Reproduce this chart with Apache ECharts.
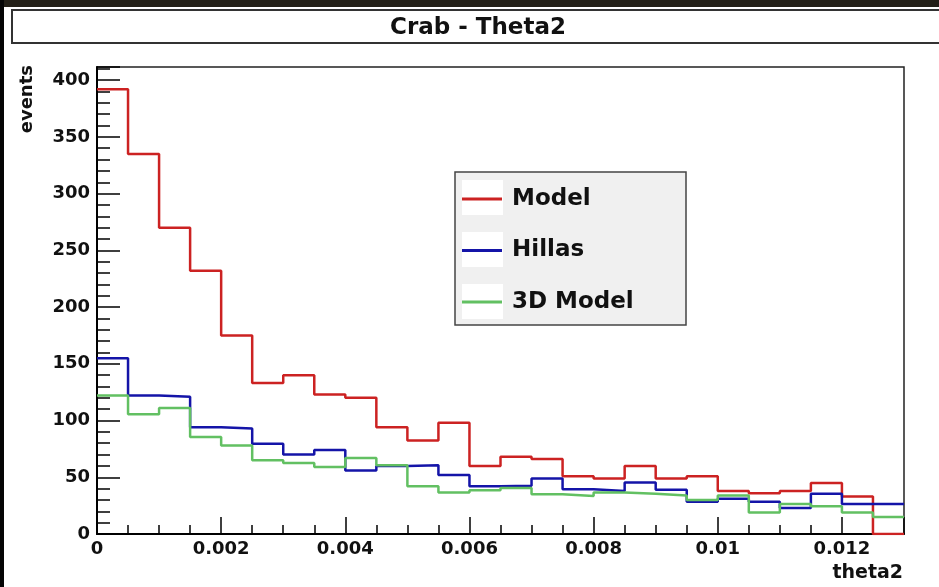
<!DOCTYPE html>
<html>
<head>
<meta charset="utf-8">
<script src="https://cdn.jsdelivr.net/npm/echarts@6/dist/echarts.min.js"></script>
<style>
html,body{margin:0;padding:0;background:#fff;}
#c{width:939px;height:587px;}
</style>
</head>
<body>
<div id="c"></div>
<script>
// Bin edges of theta2 (26 bins of width 0.0005)
const binEdges = [0, 0.0005, 0.001, 0.0015, 0.002, 0.0025, 0.003, 0.0035, 0.004, 0.0045,
  0.005, 0.0055, 0.006, 0.0065, 0.007, 0.0075, 0.008, 0.0085, 0.009, 0.0095,
  0.01, 0.0105, 0.011, 0.0115, 0.012, 0.0125, 0.013];
const seriesNames = ['Model', 'Hillas', '3D Model'];
const modelCounts = [392, 335, 270, 232, 175, 133, 140, 123, 120, 94, 82.5, 98, 60, 68, 66, 51, 49, 60, 49, 51, 38, 36, 38, 45, 33, 0];
const hillasCounts = [155, 122, 121, 94, 93, 79.5, 70, 74, 56, 60, 60.5, 52, 42, 42.5, 49, 39.5, 38, 45.5, 39, 28.5, 31, 28.5, 23, 35.5, 26.5, 26.5];
const model3DCounts = [122, 105.5, 111, 85.5, 78, 65, 62.5, 59, 67, 60.5, 42, 36.5, 38.5, 40.5, 35, 33.5, 36.5, 35.5, 34, 30, 34, 19, 26.5, 24.5, 19, 15];
const xTickLabels = ['0', '0.002', '0.004', '0.006', '0.008', '0.01', '0.012'];
const yTickLabels = ['0', '50', '100', '150', '200', '250', '300', '350', '400'];

function histData(counts) {
  // one point per bin edge; last edge repeats the last bin so the step reaches the end
  return binEdges.map((e, i) => [e, counts[Math.min(i, counts.length - 1)]]);
}

const FONT = '"DejaVu Sans", Verdana, sans-serif';
const colors = ['#cc2222', '#1414a8', '#62c062'];
const chart = echarts.init(document.getElementById('c'), null, {renderer: 'canvas'});

const legendTop = 172, legendLeft = 455;
chart.setOption({
  animation: false,
  backgroundColor: '#ffffff',
  grid: {left: 97, top: 67, right: 35, bottom: 53, show: true, borderColor: '#222', borderWidth: 1.5, backgroundColor: '#fff'},
  xAxis: {
    type: 'value', min: 0, max: 0.013, interval: 0.002,
    axisLine: {show: true, lineStyle: {color: '#000', width: 2}},
    axisTick: {show: true, inside: true, length: 17, lineStyle: {color: '#000', width: 1.5}},
    minorTick: {show: true, splitNumber: 4, length: 9, lineStyle: {color: '#000', width: 1.5}},
    splitLine: {show: false},
    axisLabel: {
      showMaxLabel: false, margin: 6, color: '#111', fontFamily: FONT, fontWeight: 'bold', fontSize: 18,
      formatter: v => { const i = Math.round(v / 0.002); return xTickLabels[i] !== undefined ? xTickLabels[i] : ''; }
    }
  },
  yAxis: {
    type: 'value', min: 0, max: 411.6, interval: 50,
    axisLine: {show: true, lineStyle: {color: '#000', width: 2}},
    axisTick: {show: true, inside: true, length: 23, lineStyle: {color: '#000', width: 1.5}},
    minorTick: {show: true, splitNumber: 5, length: 13, lineStyle: {color: '#000', width: 1.5}},
    splitLine: {show: false},
    axisLabel: {
      showMaxLabel: false, margin: 7, color: '#111', fontFamily: FONT, fontWeight: 'bold', fontSize: 18,
      formatter: v => { const i = Math.round(v / 50); return yTickLabels[i] !== undefined ? yTickLabels[i] : ''; }
    }
  },
  legend: {
    orient: 'vertical', left: legendLeft, top: legendTop,
    padding: [12, 52, 8, 7],
    backgroundColor: 'transparent', borderWidth: 0,
    itemWidth: 40, itemHeight: 3, itemGap: 21.5,
    icon: 'rect',
    textStyle: {fontFamily: FONT, fontWeight: 'bold', fontSize: 23, color: '#111', lineHeight: 30, padding: [0, 0, 0, 5]},
    data: seriesNames,
    z: 6
  },
  graphic: [
    {type: 'rect', shape: {x: 0, y: 0, width: 939, height: 7}, style: {fill: '#231f17'}, z: 10},
    {type: 'rect', shape: {x: 0, y: 0, width: 4, height: 587}, style: {fill: '#050505'}, z: 10},
    {type: 'rect', shape: {x: 12, y: 10, width: 940, height: 33}, style: {fill: '#fff', stroke: '#333', lineWidth: 2}, z: 3},
    {type: 'text', x: 478, y: 28, style: {text: 'Crab - Theta2', font: 'bold 23px ' + FONT, fill: '#111', textAlign: 'center', textVerticalAlign: 'middle'}, z: 4},
    {type: 'text', x: 27, y: 65, rotation: Math.PI / 2, style: {text: 'events', font: 'bold 18px ' + FONT, fill: '#111', textAlign: 'right', textVerticalAlign: 'middle'}, z: 4},
    {type: 'text', x: 903, y: 573, style: {text: 'theta2', font: 'bold 19px ' + FONT, fill: '#111', textAlign: 'right', textVerticalAlign: 'middle'}, z: 4},
    {type: 'rect', shape: {x: legendLeft, y: legendTop, width: 231, height: 153}, style: {fill: '#f0f0f0', stroke: '#444', lineWidth: 1.5}, z: 5},
    {type: 'rect', shape: {x: 462, y: 180, width: 41, height: 35}, style: {fill: '#fff'}, z: 5},
    {type: 'rect', shape: {x: 462, y: 232, width: 41, height: 35}, style: {fill: '#fff'}, z: 5},
    {type: 'rect', shape: {x: 462, y: 284, width: 41, height: 35}, style: {fill: '#fff'}, z: 5}
  ],
  series: [
    {name: seriesNames[0], type: 'line', step: 'end', showSymbol: false, data: histData(modelCounts), lineStyle: {color: colors[0], width: 2.5}, itemStyle: {color: colors[0]}},
    {name: seriesNames[1], type: 'line', step: 'end', showSymbol: false, data: histData(hillasCounts), lineStyle: {color: colors[1], width: 2.5}, itemStyle: {color: colors[1]}},
    {name: seriesNames[2], type: 'line', step: 'end', showSymbol: false, data: histData(model3DCounts), lineStyle: {color: colors[2], width: 2.5}, itemStyle: {color: colors[2]}}
  ]
});
</script>
</body>
</html>
